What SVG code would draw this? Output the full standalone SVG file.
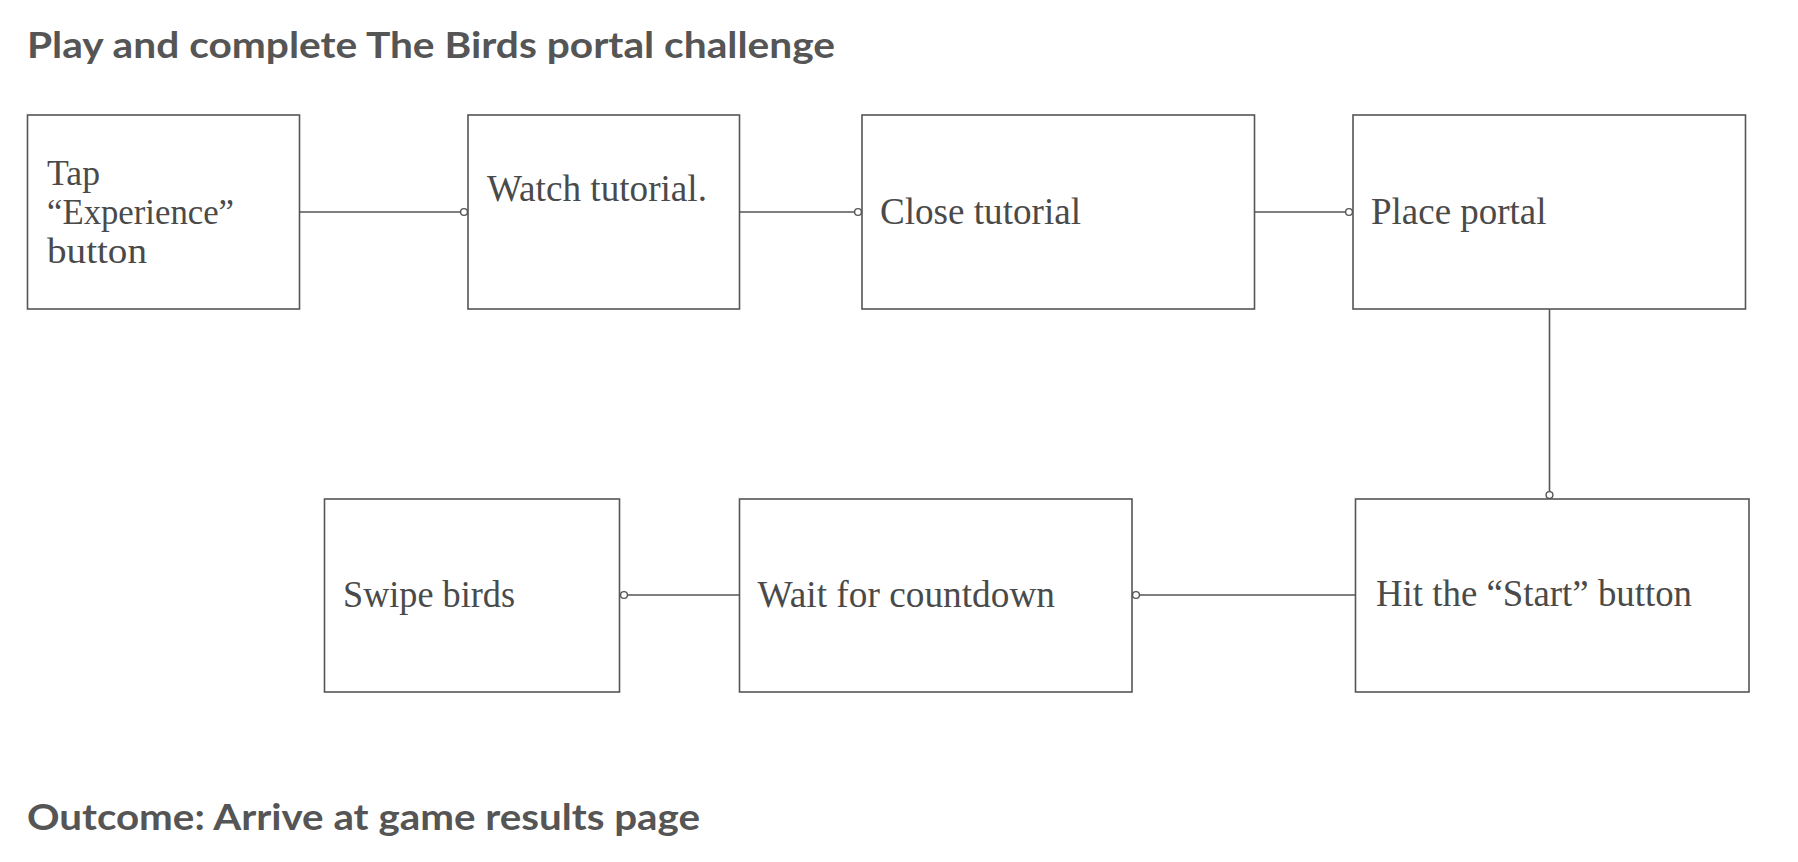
<svg xmlns="http://www.w3.org/2000/svg" width="1798" height="862" viewBox="0 0 1798 862">
<style>
.box{fill:#fff;stroke:#555;stroke-width:1.6}
.lbl{font-family:"Liberation Serif",serif;font-size:38px;fill:#4a4a4a}
.sm{font-size:35px}
.ttl{font-family:Lato,"Liberation Sans",sans-serif;font-weight:700;font-size:36px;fill:#555}
.con{fill:none;stroke:#555;stroke-width:1.6}
</style>
<defs>
<marker id="dot" markerUnits="userSpaceOnUse" viewBox="0 0 10 10" refX="5" refY="5" markerWidth="10" markerHeight="10" orient="auto">
<circle cx="5" cy="5" r="3.4" fill="#fff" stroke="#555" stroke-width="1.4"/>
</marker>
</defs>
<rect width="1798" height="862" fill="#fff"/>
<text class="ttl" x="27" y="58" textLength="808" lengthAdjust="spacingAndGlyphs">Play and complete The Birds portal challenge</text>
<text class="ttl" x="27" y="830" textLength="673" lengthAdjust="spacingAndGlyphs">Outcome: Arrive at game results page</text>
<g id="connectors">
<path class="con" d="M299.5 212H464" marker-end="url(#dot)"/>
<path class="con" d="M739.5 212H858" marker-end="url(#dot)"/>
<path class="con" d="M1254.5 212H1349" marker-end="url(#dot)"/>
<path class="con" d="M1549.5 309V495" marker-end="url(#dot)"/>
<path class="con" d="M1355.5 595H1136" marker-end="url(#dot)"/>
<path class="con" d="M739.5 595H624" marker-end="url(#dot)"/>
</g>
<g id="n1">
<rect class="box" x="27.5" y="115" width="272" height="194"/>
<text class="lbl sm" x="47" y="185" textLength="53" lengthAdjust="spacingAndGlyphs">Tap</text>
<text class="lbl sm" x="47" y="224" textLength="187" lengthAdjust="spacingAndGlyphs">“Experience”</text>
<text class="lbl sm" x="47" y="263" textLength="100" lengthAdjust="spacingAndGlyphs">button</text>
</g>
<g id="n2">
<rect class="box" x="468" y="115" width="271.5" height="194"/>
<text class="lbl" x="487" y="201" textLength="220" lengthAdjust="spacingAndGlyphs">Watch tutorial.</text>
</g>
<g id="n3">
<rect class="box" x="862" y="115" width="392.5" height="194"/>
<text class="lbl" x="880" y="224" textLength="201" lengthAdjust="spacingAndGlyphs">Close tutorial</text>
</g>
<g id="n4">
<rect class="box" x="1353" y="115" width="392.5" height="194"/>
<text class="lbl" x="1371" y="224" textLength="175.5" lengthAdjust="spacingAndGlyphs">Place portal</text>
</g>
<g id="n5">
<rect class="box" x="1355.5" y="499" width="393.5" height="193"/>
<text class="lbl" x="1376" y="606" textLength="316" lengthAdjust="spacingAndGlyphs">Hit the “Start” button</text>
</g>
<g id="n6">
<rect class="box" x="739.5" y="499" width="392.5" height="193"/>
<text class="lbl" x="757.5" y="607" textLength="297.5" lengthAdjust="spacingAndGlyphs">Wait for countdown</text>
</g>
<g id="n7">
<rect class="box" x="324.5" y="499" width="295" height="193"/>
<text class="lbl" x="343" y="607" textLength="172" lengthAdjust="spacingAndGlyphs">Swipe birds</text>
</g>
</svg>
